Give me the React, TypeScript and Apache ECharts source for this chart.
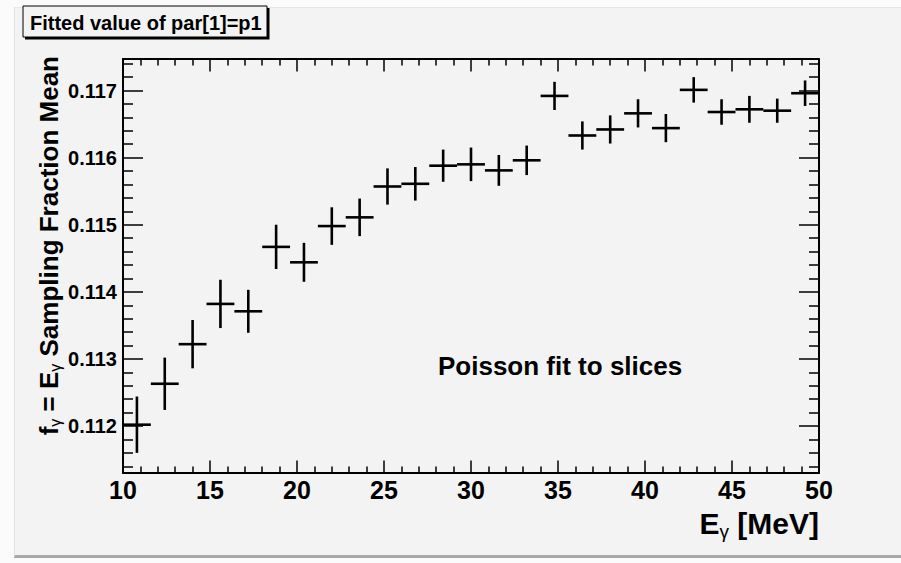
import React, { useEffect, useRef } from 'react';
import * as echarts from 'echarts';

// ---- data ----
const binCenters = [
  10.8, 12.4, 14.0, 15.6, 17.2, 18.8, 20.4, 22.0, 23.6, 25.2, 26.8, 28.4, 30.0,
  31.6, 33.2, 34.8, 36.4, 38.0, 39.6, 41.2, 42.8, 44.4, 46.0, 47.6, 49.2,
];
const sfMean = [
  0.11202, 0.11263, 0.11322, 0.11382, 0.11371, 0.11467, 0.11444, 0.11498, 0.11511,
  0.11557, 0.11561, 0.11588, 0.1159, 0.11581, 0.11596, 0.11692, 0.11633, 0.11642,
  0.11666, 0.11644, 0.11701, 0.11668, 0.11672, 0.1167, 0.11696,
];
const sfErr = [
  0.00042, 0.00039, 0.00036, 0.00036, 0.00032, 0.00033, 0.00029, 0.00028, 0.00028,
  0.00027, 0.00025, 0.00024, 0.00025, 0.00023, 0.00022, 0.00021, 0.00021, 0.00021,
  0.00021, 0.00021, 0.00019, 0.00019, 0.0002, 0.00018, 0.00019,
];
const binWidth = 1.6;
const xRange = [10, 50];
const xTickStep = 5;
const yRange = [0.1113, 0.11747];
const yTickStep = 0.001;
const titleText = 'Fitted value of par[1]=p1';
const noteText = 'Poisson fit to slices';

const FONT = '"Liberation Sans", Arial, Helvetica, sans-serif';
const BG = '#f3f3f3';

export default function App() {
  const ref = useRef<HTMLDivElement>(null);

  useEffect(() => {
    if (!ref.current) return;
    const chart = echarts.init(ref.current, undefined, { renderer: 'svg' });

    const data = binCenters.map((x, i) => [x, sfMean[i], sfErr[i]]);

    const lineStyle = { color: '#000', width: 2 };
    const tickStyle = { color: '#000', width: 1.5 };

    const xAxisBase = (pos: 'bottom' | 'top', labels: boolean) => ({
      type: 'value',
      position: pos,
      min: xRange[0],
      max: xRange[1],
      interval: xTickStep,
      axisLine: { show: true, onZero: false, lineStyle },
      axisTick: { show: true, inside: true, length: 12.5, lineStyle: tickStyle },
      minorTick: { show: true, splitNumber: 5, length: 6.5, lineStyle: tickStyle },
      splitLine: { show: false },
      axisLabel: {
        show: labels,
        margin: 4,
        color: '#000',
        fontFamily: FONT,
        fontWeight: 'bold',
        fontSize: 25,
      },
    });

    const yAxisBase = (pos: 'left' | 'right', labels: boolean) => ({
      type: 'value',
      position: pos,
      min: yRange[0],
      max: yRange[1],
      splitNumber: 6,
      minInterval: yTickStep,
      maxInterval: yTickStep,
      axisLine: { show: true, onZero: false, lineStyle },
      axisTick: { show: true, inside: true, length: 20, lineStyle: tickStyle },
      minorTick: { show: true, splitNumber: 5, length: 10, lineStyle: tickStyle },
      splitLine: { show: false },
      axisLabel: {
        show: labels,
        showMinLabel: false,
        showMaxLabel: false,
        margin: 6,
        color: '#000',
        fontFamily: FONT,
        fontWeight: 'bold',
        fontSize: 20,
        formatter: (v: number) => v.toFixed(3),
      },
    });

    const option: any = {
      animation: false,
      backgroundColor: 'transparent',
      grid: { left: 123, right: 82, top: 59, bottom: 90, containLabel: false, outerBoundsMode: 'none' },
      xAxis: [xAxisBase('bottom', true), xAxisBase('top', false)],
      yAxis: [yAxisBase('left', true), yAxisBase('right', false)],
      series: [
        {
          type: 'custom',
          xAxisIndex: 0,
          yAxisIndex: 0,
          data,
          encode: { x: 0, y: 1 },
          renderItem: (params: any, api: any) => {
            const x = api.value(0);
            const y = api.value(1);
            const e = api.value(2);
            const l = api.coord([x - binWidth / 2, y]);
            const r = api.coord([x + binWidth / 2, y]);
            const t = api.coord([x, y + e]);
            const b = api.coord([x, y - e]);
            const st = { stroke: '#000', lineWidth: 2.6 };
            return {
              type: 'group',
              children: [
                { type: 'line', shape: { x1: l[0], y1: l[1], x2: r[0], y2: r[1] }, style: st },
                { type: 'line', shape: { x1: t[0], y1: t[1], x2: b[0], y2: b[1] }, style: st },
              ],
            };
          },
        },
      ],
      graphic: [
        {
          type: 'rect',
          shape: { x: 25, y: 8, width: 244.5, height: 31.5 },
          style: { fill: '#000' },
        },
        {
          type: 'rect',
          shape: { x: 23, y: 6, width: 244, height: 31 },
          style: { fill: BG, stroke: '#000', lineWidth: 1 },
        },
        {
          type: 'text',
          x: 30,
          y: 22.5,
          style: {
            text: titleText,
            fill: '#000',
            fontFamily: FONT,
            fontWeight: 'bold',
            fontSize: 20,
            align: 'left',
            verticalAlign: 'middle',
          },
        },
        {
          type: 'text',
          x: 438,
          y: 366,
          style: {
            text: noteText,
            fill: '#000',
            fontFamily: FONT,
            fontWeight: 'bold',
            fontSize: 26,
            align: 'left',
            verticalAlign: 'middle',
          },
        },
        {
          type: 'text',
          x: 819,
          y: 523.5,
          style: {
            text: '{m|E}{s|γ}{m| [MeV]}',
            fill: '#000',
            align: 'right',
            verticalAlign: 'middle',
            rich: {
              m: { fontFamily: FONT, fontWeight: 'bold', fontSize: 30, lineHeight: 34, verticalAlign: 'middle', fill: '#000' },
              s: { fontFamily: FONT, fontWeight: 'normal', fontSize: 19, lineHeight: 22, verticalAlign: 'bottom', fill: '#000' },
            },
          },
        },
        {
          type: 'text',
          x: 48.5,
          y: 56,
          rotation: Math.PI / 2,
          style: {
            text: '{m|f}{s|γ}{m| = E}{s|γ}{m| Sampling Fraction Mean}',
            fill: '#000',
            align: 'right',
            verticalAlign: 'middle',
            rich: {
              m: { fontFamily: FONT, fontWeight: 'bold', fontSize: 26, lineHeight: 30, verticalAlign: 'middle', fill: '#000' },
              s: { fontFamily: FONT, fontWeight: 'normal', fontSize: 16, lineHeight: 18, verticalAlign: 'bottom', fill: '#000' },
            },
          },
        },
      ],
    };

    chart.setOption(option);
    return () => chart.dispose();
  }, []);

  return (
    <div style={{ position: 'fixed', left: 0, top: 0, width: 901, height: 563, background: '#fbfbfb', overflow: 'hidden' }}>
      <div
        style={{
          position: 'absolute',
          left: 14,
          top: 7,
          width: 887,
          height: 551,
          background: BG,
          borderLeft: '1px solid #e2e2e2',
          borderTop: '1px solid #e6e6e6',
          borderBottom: '3px solid #a8a8a8',
          boxSizing: 'border-box',
        }}
      />
      <div ref={ref} style={{ position: 'absolute', left: 0, top: 0, width: 901, height: 563 }} />
    </div>
  );
}
